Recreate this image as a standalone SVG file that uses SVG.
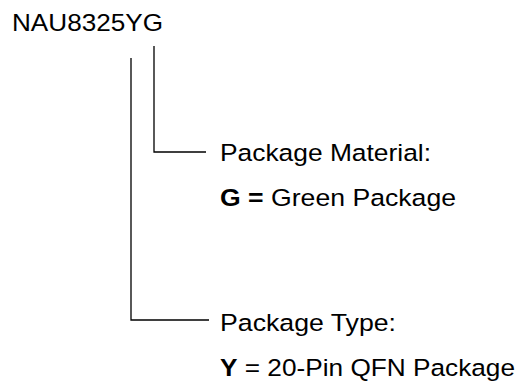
<svg xmlns="http://www.w3.org/2000/svg" width="523" height="388" viewBox="0 0 523 388">
<style>
.t{font-family:"Liberation Sans",Arial,sans-serif;font-size:24.5px;fill:#000}
.b{font-weight:bold}
.c{fill:none;stroke:#000;stroke-width:1.3}
</style>
<rect width="523" height="388" fill="#fff"/>
<g id="part-number"><text class="t" x="12" y="31" textLength="151" lengthAdjust="spacingAndGlyphs">NAU8325YG</text></g>
<g id="connectors">
<polyline class="c" points="154,46 154,152 206,152"/>
<polyline class="c" points="131,58 131,320 209,320"/>
</g>
<g id="package-material">
<text class="t" x="220" y="161" textLength="211" lengthAdjust="spacingAndGlyphs">Package Material:</text>
<text class="t" x="220" y="206" textLength="236" lengthAdjust="spacingAndGlyphs"><tspan class="b">G =</tspan> Green Package</text>
</g>
<g id="package-type">
<text class="t" x="220" y="331" textLength="176" lengthAdjust="spacingAndGlyphs">Package Type:</text>
<text class="t" x="220" y="376" textLength="295" lengthAdjust="spacingAndGlyphs"><tspan class="b">Y</tspan> = 20-Pin QFN Package</text>
</g>
</svg>
